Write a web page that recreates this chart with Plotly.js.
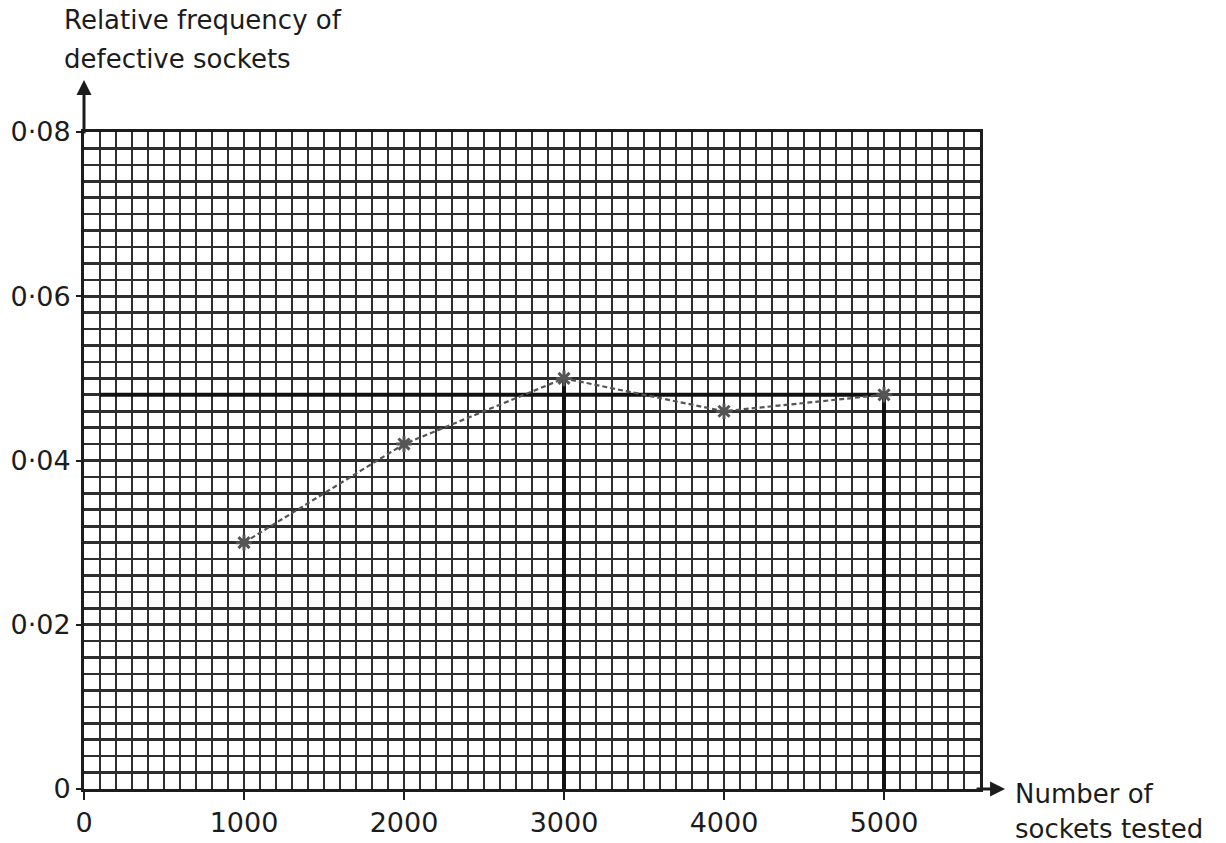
<!DOCTYPE html>
<html>
<head>
<meta charset="utf-8">
<script src="https://cdn.plot.ly/plotly-3.0.1.min.js"></script>
<style>
  html, body { margin: 0; padding: 0; background: #ffffff; }
  #chart { width: 1226px; height: 843px; }
</style>
</head>
<body>
<div id="chart"></div>
<script>
// Sockets tested and the relative frequency of defective ones
const sockets = [1000, 2000, 3000, 4000, 5000];
const relFreq = [0.030, 0.042, 0.050, 0.046, 0.048];

// Axis tick labels
const xTickVals = [0, 1000, 2000, 3000, 4000, 5000];
const xTickText = ['0', '1000', '2000', '3000', '4000', '5000'];
const yTickVals = [0, 0.02, 0.04, 0.06, 0.08];
const yTickText = ['0', '0·02', '0·04', '0·06', '0·08'];

// Drop lines from these readings down to the horizontal axis
const dropAt = [3000, 5000];
// Estimate line runs from here to the last reading
const estimateStart = 100;

const ink = '#1c1c1c';
const gridInk = '#2e2e2e';
const font = 'DejaVu Sans, Arial, sans-serif';

const traces = [];

// hand-drawn drop lines
dropAt.forEach(function (xv) {
  const i = sockets.indexOf(xv);
  traces.push({
    x: [xv, xv], y: [relFreq[i], 0],
    mode: 'lines', line: { color: '#111111', width: 4 },
    hoverinfo: 'skip', showlegend: false
  });
});

// estimate of the probability: the last relative frequency
const last = relFreq[relFreq.length - 1];
traces.push({
  x: [estimateStart, sockets[sockets.length - 1]], y: [last, last],
  mode: 'lines', line: { color: '#111111', width: 4 },
  hoverinfo: 'skip', showlegend: false
});

// plotted readings joined by a dashed line
traces.push({
  x: sockets, y: relFreq,
  mode: 'lines+markers',
  line: { color: '#555555', width: 2.2, dash: '5px,3px' },
  marker: { symbol: 'asterisk-open', size: 13, line: { color: '#2a2a2a', width: 3 } },
  showlegend: false
});

const annFont = { family: font, size: 26, color: ink };

const layout = {
  width: 1226, height: 843,
  margin: { l: 84, r: 246, t: 132, b: 54, pad: 0 },
  paper_bgcolor: '#ffffff', plot_bgcolor: '#ffffff',
  showlegend: false,
  xaxis: {
    range: [0, 5600], fixedrange: true,
    tickmode: 'array', tickvals: xTickVals, ticktext: xTickText,
    ticks: 'outside', ticklen: 8, tickwidth: 2.5, tickcolor: ink,
    tickfont: { family: font, size: 27, color: ink },
    showline: true, linecolor: ink, linewidth: 3, mirror: true,
    showgrid: true, gridcolor: gridInk, gridwidth: 2.6,
    zeroline: false,
    minor: { tickmode: 'linear', tick0: 0, dtick: 100, showgrid: true, gridcolor: gridInk, gridwidth: 2.6, ticks: '' }
  },
  yaxis: {
    range: [0, 0.08], fixedrange: true,
    tickmode: 'array', tickvals: yTickVals, ticktext: yTickText,
    ticks: 'outside', ticklen: 5, tickwidth: 2, tickcolor: ink,
    tickfont: { family: font, size: 27, color: ink },
    showline: true, linecolor: ink, linewidth: 3, mirror: true,
    showgrid: true, gridcolor: gridInk, gridwidth: 2.6,
    zeroline: false,
    minor: { tickmode: 'linear', tick0: 0, dtick: 0.002, showgrid: true, gridcolor: gridInk, gridwidth: 2.6, ticks: '' }
  },
  annotations: [
    // axis arrows
    { xref: 'paper', yref: 'paper', x: 1.028, y: 0, ax: -30, ay: 0, text: '',
      showarrow: true, arrowhead: 2, arrowsize: 1, arrowwidth: 3, arrowcolor: ink },
    { xref: 'paper', yref: 'paper', x: 0, y: 1.079, ax: 0, ay: 55, text: '',
      showarrow: true, arrowhead: 2, arrowsize: 1, arrowwidth: 3, arrowcolor: ink },
    // vertical axis title
    { xref: 'paper', yref: 'paper', x: -0.0246, y: 1.1705, xanchor: 'left', yanchor: 'middle',
      text: 'Relative frequency of', showarrow: false, font: annFont },
    { xref: 'paper', yref: 'paper', x: -0.0246, y: 1.111, xanchor: 'left', yanchor: 'middle',
      text: 'defective sockets', showarrow: false, font: annFont },
    // horizontal axis title
    { xref: 'paper', yref: 'paper', x: 1.0368, y: -0.0076, xanchor: 'left', yanchor: 'middle',
      text: 'Number of', showarrow: false, font: annFont },
    { xref: 'paper', yref: 'paper', x: 1.0368, y: -0.0609, xanchor: 'left', yanchor: 'middle',
      text: 'sockets tested', showarrow: false, font: annFont }
  ]
};

Plotly.newPlot('chart', traces, layout, { displayModeBar: false, staticPlot: true });
</script>
</body>
</html>
